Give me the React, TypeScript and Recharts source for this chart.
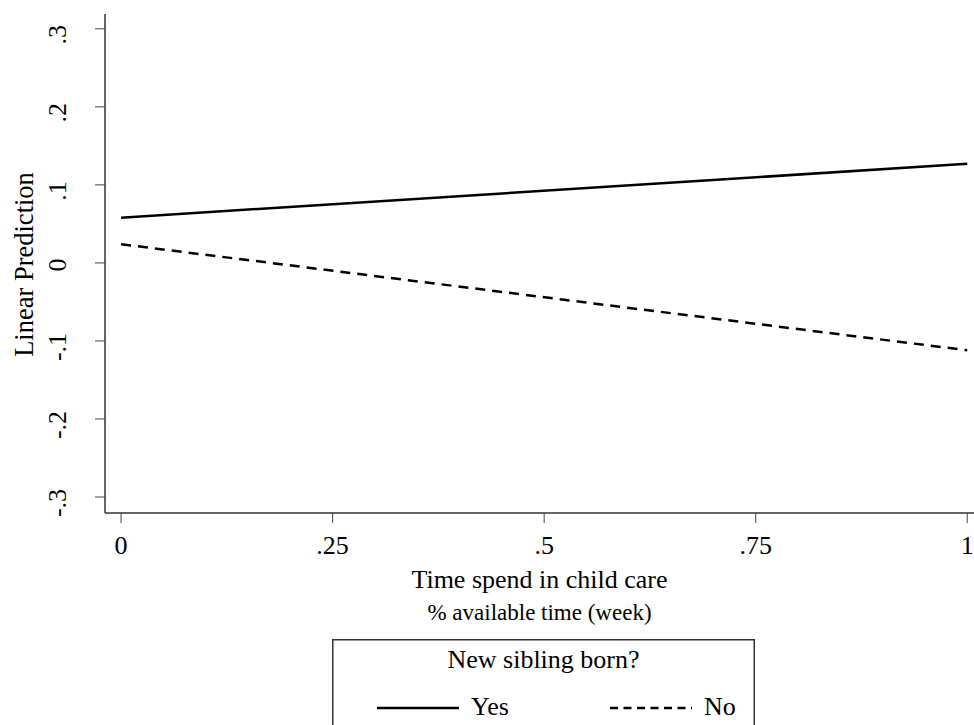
import React from 'react';
import { LineChart, Line, XAxis, YAxis, Legend, Label } from 'recharts';

// x positions of the predictions (share of available time)
const timeShare = [0, 1];
// linear predictions
const yesPrediction = [0.058, 0.127];
const noPrediction = [0.024, -0.112];

const seriesOrder = ['Yes', 'No'];
const xTicks = [0, 0.25, 0.5, 0.75, 1];
const yTicks = [-0.3, -0.2, -0.1, 0, 0.1, 0.2, 0.3];

const legendTitle = 'New sibling born?';
const xTitle = 'Time spend in child care';
const xSubtitle = '% available time (week)';
const yTitle = 'Linear Prediction';

const FONT = '"Liberation Serif", "Times New Roman", serif';

const data = timeShare.map((x, i) => ({ x, yes: yesPrediction[i], no: noPrediction[i] }));

// Stata style: drop the leading zero
const fmt = (v: number) => {
  if (v === 0) return '0';
  if (v === 1) return '1';
  return String(v).replace('0.', '.');
};

const XTick = (props: any) => {
  const { x, y, payload } = props;
  return (
    <text x={x} y={y + 31} textAnchor="middle" fontFamily={FONT} fontSize={26} fill="#000">
      {fmt(payload.value)}
    </text>
  );
};

const YTick = (props: any) => {
  const { x, y, payload } = props;
  const tx = x - 29;
  // stata centres these a little low
  const ty = y + (payload.value === 0 ? 2 : 6);
  return (
    <text
      x={tx}
      y={ty}
      transform={`rotate(-90 ${tx} ${ty})`}
      textAnchor="middle"
      fontFamily={FONT}
      fontSize={26}
      fill="#000"
    >
      {fmt(payload.value)}
    </text>
  );
};

const XTitle = (props: any) => {
  const { x, y, width } = props.viewBox;
  const cx = x + width / 2;
  return (
    <g>
      <text x={cx} y={y + 75} textAnchor="middle" fontFamily={FONT} fontSize={26} fill="#000">
        {xTitle}
      </text>
      <text x={cx} y={y + 107} textAnchor="middle" fontFamily={FONT} fontSize={23} fill="#000">
        {xSubtitle}
      </text>
    </g>
  );
};

const YTitle = (props: any) => {
  const { y, height } = props.viewBox;
  const cy = y + height / 2 + 1;
  return (
    <text
      x={33}
      y={cy}
      transform={`rotate(-90 33 ${cy})`}
      textAnchor="middle"
      fontFamily={FONT}
      fontSize={26.5}
      fill="#000"
    >
      {yTitle}
    </text>
  );
};

const LegendBox = (props: any) => {
  const items = [...(props.payload || [])].sort(
    (a: any, b: any) => seriesOrder.indexOf(a.value) - seriesOrder.indexOf(b.value)
  );
  return (
    <svg width={423} height={100} style={{ display: 'block' }}>
      <rect x={0.75} y={0.75} width={421.5} height={120} fill="#fff" stroke="#333" strokeWidth={1.5} />
      <text x={211.5} y={29} textAnchor="middle" fontFamily={FONT} fontSize={26} fill="#000">
        {legendTitle}
      </text>
      {items.map((it: any, i: number) => {
        const sx = 45 + i * 233;
        const dashed = !!it.payload?.strokeDasharray;
        return (
          <g key={it.value}>
            <line
              x1={sx}
              x2={sx + 82}
              y1={69}
              y2={69}
              stroke="#000"
              strokeWidth={2.5}
              strokeDasharray={dashed ? '8 5.5' : undefined}
            />
            <text x={sx + 94} y={76} fontFamily={FONT} fontSize={26} fill="#000">
              {it.value}
            </text>
          </g>
        );
      })}
    </svg>
  );
};

export default function App() {
  return (
    <div style={{ position: 'absolute', left: 0, top: 0, width: 974, height: 725, overflow: 'hidden', background: '#fff' }}>
      <LineChart width={974} height={725} data={data} margin={{ top: 14, right: 0, bottom: 0, left: 0 }}>
        <XAxis
          dataKey="x"
          type="number"
          domain={[-0.019, 1.008]}
          ticks={xTicks}
          height={212}
          tickSize={10}
          tickMargin={0}
          stroke="#333"
          tickLine={{ stroke: '#444' }}
          tick={<XTick />}
          axisLine={{ stroke: '#333', strokeWidth: 1.5 }}
        >
          <Label content={<XTitle />} />
        </XAxis>
        <YAxis
          type="number"
          domain={[-0.3205, 0.319]}
          ticks={yTicks}
          width={105}
          tickSize={10}
          tickMargin={0}
          stroke="#333"
          tickLine={{ stroke: '#444' }}
          tick={<YTick />}
          axisLine={{ stroke: '#333', strokeWidth: 1.5 }}
          allowDataOverflow
        >
          <Label content={<YTitle />} />
        </YAxis>
        <Legend
          layout="horizontal"
          verticalAlign="middle"
          align="center"
          content={<LegendBox />}
          wrapperStyle={{ position: 'absolute', left: 332, top: 639, width: 423, height: 100 }}
        />
        <Line
          type="linear"
          dataKey="yes"
          name="Yes"
          stroke="#000"
          strokeWidth={2.5}
          dot={false}
          isAnimationActive={false}
        />
        <Line
          type="linear"
          dataKey="no"
          name="No"
          stroke="#000"
          strokeWidth={2.5}
          strokeDasharray="10 7"
          dot={false}
          isAnimationActive={false}
        />
      </LineChart>
    </div>
  );
}
